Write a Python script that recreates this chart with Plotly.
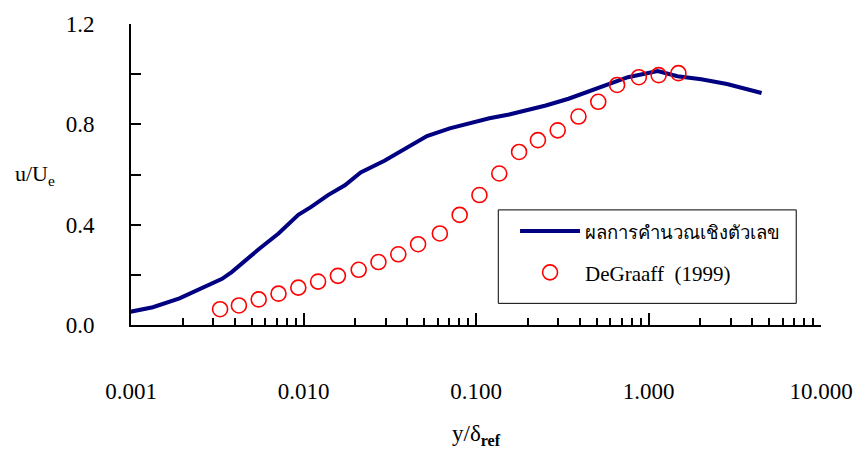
import plotly.graph_objects as go

# Numerical result (blue line)
line_x = [0.000900, 0.001338, 0.001910, 0.002730, 0.003373, 0.003849, 0.004393,
          0.005499, 0.007164, 0.009331, 0.01108, 0.01387, 0.01737, 0.02145,
          0.02945, 0.03836, 0.05197, 0.07045, 0.09178, 0.1196, 0.1557, 0.1949,
          0.2539, 0.3440, 0.5392, 0.7602, 1.130, 1.472, 2.021, 2.850, 4.525]
line_y = [0.047, 0.071, 0.106, 0.153, 0.184, 0.212, 0.247, 0.302, 0.365, 0.439,
          0.471, 0.518, 0.557, 0.608, 0.655, 0.702, 0.753, 0.784, 0.804, 0.824,
          0.839, 0.855, 0.875, 0.902, 0.949, 0.988, 1.012, 0.992, 0.980, 0.961, 0.925]

# DeGraaff (1999) experimental data (red circles)
exp_x = [0.003284, 0.004222, 0.005499, 0.007164, 0.009331, 0.01215, 0.01583,
         0.02089, 0.02720, 0.03544, 0.04616, 0.06172, 0.08040, 0.1047, 0.1364,
         0.1777, 0.2285, 0.2976, 0.3926, 0.5114, 0.6575, 0.8793, 1.145, 1.491]
exp_y = [0.063, 0.078, 0.102, 0.125, 0.149, 0.173, 0.196, 0.220, 0.251, 0.282,
         0.322, 0.365, 0.439, 0.518, 0.604, 0.690, 0.737, 0.776, 0.831, 0.890,
         0.957, 0.988, 0.996, 1.004]

x_tickvals = [0.001, 0.01, 0.1, 1, 10]
x_ticktext = ["0.001", "0.010", "0.100", "1.000", "10.000"]
y_tickvals = [0.0, 0.2, 0.4, 0.6, 0.8, 1.0, 1.2]
y_ticktext = ["0.0", "", "0.4", "", "0.8", "", "1.2"]

SERIF = "Liberation Serif, Times New Roman, serif"

fig = go.Figure()
fig.add_trace(go.Scatter(
    x=line_x, y=line_y, mode="lines",
    name="<span style='font-size:18.5px'>ผลการคำนวณเชิงตัวเลข</span>",
    line=dict(color="#000080", width=4),
    legendgroup="a",
))
fig.add_trace(go.Scatter(
    x=exp_x, y=exp_y, mode="markers",
    name="DeGraaff  (1999)",
    marker=dict(symbol="circle-open", size=15, color="#ff0000", line=dict(width=1.6)),
    legendgroup="b",
    cliponaxis=False,
))

fig.update_layout(
    width=865, height=460,
    margin=dict(l=131, r=37, t=19, b=135),
    paper_bgcolor="white", plot_bgcolor="white",
    font=dict(family=SERIF, size=22, color="black"),
    showlegend=True,
    legend=dict(
        x=0.5566, y=0.379, xanchor="left", yanchor="top",
        borderwidth=0, bgcolor="rgba(0,0,0,0)",
        font=dict(family=SERIF, size=21, color="black"),
        itemwidth=60, tracegroupgap=11, traceorder="grouped",
    ),
    shapes=[
        dict(type="rect", xref="paper", yref="paper",
             x0=0.5323, x1=0.9641, y0=0.0719, y1=0.3824,
             line=dict(color="black", width=1), fillcolor="rgba(0,0,0,0)",
             layer="above"),
    ],
    xaxis=dict(
        type="log", range=[-3, 1],
        tickmode="array", tickvals=x_tickvals, ticktext=x_ticktext,
        ticks="inside", ticklen=12, tickwidth=1.5, tickcolor="black",
        showline=True, linecolor="black", linewidth=2,
        showgrid=False, zeroline=False,
        ticklabelstandoff=44, ticklabeloverflow="allow",
        tickfont=dict(family=SERIF, size=23),
        minor=dict(ticks="inside", ticklen=7, tickwidth=1.5, tickcolor="black",
                   showgrid=False, dtick="D1"),
    ),
    yaxis=dict(
        range=[0, 1.2],
        tickmode="array", tickvals=y_tickvals, ticktext=y_ticktext,
        ticks="inside", ticklen=10, tickwidth=1.5, tickcolor="black",
        showline=True, linecolor="black", linewidth=2,
        showgrid=False, zeroline=False,
        ticklabelstandoff=30,
        tickfont=dict(family=SERIF, size=23),
    ),
    annotations=[
        dict(text="u/U<sub>e</sub>", xref="paper", yref="paper",
             x=-0.139, y=0.5, xanchor="center", yanchor="middle",
             showarrow=False, font=dict(family=SERIF, size=22)),
        dict(text="y/δ<sub><b>ref</b></sub>", xref="paper", yref="paper",
             x=0.5, y=-0.365, xanchor="center", yanchor="middle",
             showarrow=False, font=dict(family=SERIF, size=23)),
    ],
)

fig.write_html("out.html")
